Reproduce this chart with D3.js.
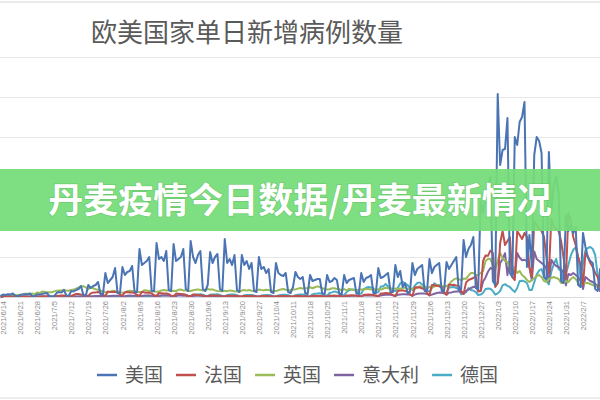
<!DOCTYPE html>
<html><head><meta charset="utf-8">
<script src="https://cdn.jsdelivr.net/npm/d3@7"></script>
<style>
html,body{margin:0;padding:0;background:#fff;overflow:hidden;}
svg{display:block;font-family:"Noto Sans CJK SC","Noto Sans",sans-serif;}
</style></head>
<body>
<svg id="chart" width="600" height="400"></svg>
<script>
// ---- data (daily new cases, thousands), days start 2021-06-13 ----
const startDate = "2021-06-13";
const seriesNames = ["美国","法国","英国","意大利","德国"];
const seriesColors = ["#4a74b4","#c0504d","#9bbb59","#8064a2","#4bacc6"];
const tickLabels = ["2021/6/14","2021/6/21","2021/6/28","2021/7/5","2021/7/12","2021/7/19","2021/7/26","2021/8/2","2021/8/9","2021/8/16","2021/8/23","2021/8/30","2021/9/6","2021/9/13","2021/9/20","2021/9/27","2021/10/4","2021/10/11","2021/10/18","2021/10/25","2021/11/1","2021/11/8","2021/11/15","2021/11/22","2021/11/29","2021/12/6","2021/12/13","2021/12/20","2021/12/27","2022/1/3","2022/1/10","2022/1/17","2022/1/24","2022/1/31","2022/2/7"];
const yTicks = [0,200,400,600,800,1000,1200];

const usa = [
5,12,10,14,12,18,6, 4,11,12,14,13,18,5, 4,13,12,15,18,20,5, 3,4,20,25,22,35,8,
6,30,28,35,40,55,10, 8,60,45,55,60,75,15, 12,120,70,85,100,145,20, 20,150,110,125,130,155,25,
25,240,160,170,180,200,30, 30,270,190,200,180,230,35, 30,265,180,190,200,240,40, 30,280,200,170,210,230,40,
30,60,225,170,200,215,40, 30,290,170,190,160,210,35, 25,210,160,180,140,170,30, 25,200,140,150,120,140,25,
20,170,120,110,105,120,25, 20,50,125,100,90,100,20, 15,110,80,85,90,90,18, 15,110,75,80,95,85,15,
15,110,70,85,90,95,18, 15,120,75,95,100,110,20, 20,145,95,100,110,120,25, 25,160,100,130,50,70,20,
25,170,110,140,150,160,30, 30,190,120,150,160,170,30, 30,175,140,160,180,200,35, 40,285,200,240,260,300,45,
40,480,420,500,560,600,80, 60,1015,660,735,740,895,120, 100,800,760,875,900,975,150, 310,150,710,800,780,720,100,
90,725,420,560,600,520,80, 70,410,330,360,320,350,60, 50,320,250,200,180,170,40, 30,140,120,100];

const france = [
1,3,3,3,3,3,2, 1,2,3,3,3,3,2, 1,2,3,4,4,4,3, 2,4,5,6,7,8,6,
3,5,10,15,15,12,10, 8,5,18,22,22,25,20, 10,5,27,25,25,26,22, 12,6,24,25,23,23,20,
10,5,26,23,21,22,18, 9,5,20,19,18,17,15, 7,4,17,16,15,14,11, 5,3,12,11,10,9,8,
4,2,9,8,7,7,5, 3,2,7,6,6,6,5, 3,1,6,5,5,5,4, 2,1,5,5,5,4,4,
2,1,5,4,5,4,4, 2,1,5,5,5,4,4, 2,1,6,5,6,5,5, 2,1,7,6,7,6,6,
3,1,8,8,9,8,7, 4,1,11,11,12,11,10, 6,2,17,18,20,19,17, 9,3,30,32,33,30,28,
13,5,47,49,48,42,40, 20,8,60,59,56,54,49, 23,11,63,60,61,57,55, 30,15,72,85,90,95,104,
28,30,180,208,206,232,220, 50,70,270,330,260,280,300, 100,85,330,310,290,320,300, 150,100,380,360,340,330,300,
200,120,390,350,340,330,280, 200,90,420,380,300,260,200, 160,60,220,200,170,150,120, 100,50,120,110];

const uk = [
7,7,8,9,11,11,10, 9,10,12,16,16,15,18, 14,22,20,27,26,24,24, 24,28,31,32,32,36,32,
31,35,37,42,48,52,54, 48,39,47,44,39,36,31, 29,24,24,27,31,29,26, 24,21,22,29,31,30,28,
26,25,24,34,32,31,28, 27,26,27,33,35,33,32, 28,31,30,36,38,32,33, 30,30,34,36,38,35,33,
34,40,37,38,33,30,29, 29,31,29,33,31,28,29, 26,33,35,32,35,31,30, 32,37,35,34,36,35,31,
30,30,34,38,40,36,34, 34,38,38,42,45,43,44, 45,49,44,49,53,50,44, 40,37,39,44,44,40,39,
33,40,33,41,37,35,34, 36,38,38,40,40,37,40, 36,39,37,41,46,44,40, 40,43,40,42,42,49,40,
40,42,41,47,54,50,45, 43,51,46,52,58,59,55, 49,55,60,78,88,93,90, 83,92,91,107,120,120,110,
110,120,130,180,190,190,160, 140,180,220,195,180,175,145, 140,145,120,130,110,100,85, 75,85,95,105,110,100,80,
75,90,95,100,95,90,70, 70,80,75,90,100,90,70, 60,65,70,70,65,60,55, 50,55,55,50];

const italy = [
1,1,1,1,1,1,1, 1,0,1,1,1,1,1, 1,0,1,1,1,1,1, 1,1,1,1,1,1,1,
1,1,2,2,2,2,3, 3,2,3,4,5,5,5, 5,3,4,5,6,6,6, 5,3,4,6,7,6,6,
5,4,5,7,7,7,6, 5,3,4,7,7,7,7, 5,4,5,7,7,6,6, 5,4,5,6,6,6,5,
5,3,4,5,5,5,4, 4,2,3,5,5,5,4, 3,2,3,4,4,4,4, 3,2,3,3,4,3,3,
3,2,2,3,3,3,3, 2,2,3,3,3,3,3, 2,1,3,3,3,4,3, 3,2,4,4,5,5,5,
4,3,5,5,6,6,6, 5,4,7,7,8,9,8, 7,5,8,10,11,11,11, 9,6,11,13,14,14,12,
12,7,12,16,17,17,17, 15,8,12,16,20,22,21, 18,12,21,23,26,28,28, 24,16,30,37,45,50,54,
30,30,78,98,126,145,140, 60,70,170,189,219,109,198, 155,100,220,196,184,186,180, 150,83,228,190,180,170,160,
140,77,186,167,155,150,140, 120,58,115,110,120,110,100, 80,40,100,90,80,75,65, 55,30,60,55];

const germany = [
1,1,1,2,2,1,1, 1,0,1,1,1,1,1, 0,0,1,1,1,1,1, 0,0,1,1,1,1,1,
1,1,1,1,2,2,1, 1,1,2,2,2,2,2, 1,1,2,3,3,3,2, 2,1,3,3,4,4,3,
2,2,4,5,5,6,5, 3,3,6,8,8,9,8, 5,4,9,11,11,12,10, 6,5,11,13,13,14,11,
6,5,11,13,13,14,10, 5,4,9,12,12,12,9, 4,3,8,10,10,10,8, 4,2,7,9,10,10,8,
3,2,8,10,11,11,9, 4,2,9,11,12,12,10, 5,4,13,16,17,19,15, 9,7,20,23,28,24,21,
10,9,25,34,37,37,30, 15,17,39,46,50,48,44, 23,24,52,53,65,52,45, 31,30,45,67,76,67,60,
45,35,57,70,73,63,55, 30,28,45,69,60,60,45, 21,21,47,49,50,45,40, 13,18,24,45,35,32,25,
10,12,21,40,42,41,30, 12,18,30,58,64,56,50, 36,25,45,80,81,78,70, 35,35,74,112,133,140,100,
80,63,126,164,190,140,130, 78,115,160,208,236,248,200, 93,169,234,245,250,240,210, 110,77,160,220];

const seriesData = [usa, france, uk, italy, germany];

// ---- drawing ----
const svg = d3.select("#chart");
const W = 600, H = 400;
const parse = d3.timeParse("%Y-%m-%d");
const parseLabel = d3.timeParse("%Y/%m/%d");
const d0 = parse(startDate);
const dayAt = i => d3.timeDay.offset(d0, i);

const x = d3.scaleTime()
  .domain([parseLabel("2021/6/14"), parseLabel("2022/2/7")])
  .range([3, 583]);
const y = d3.scaleLinear().domain([0, 1200]).range([297, 57]);

// frame lines
svg.append("line").attr("x1",0).attr("x2",W).attr("y1",2).attr("y2",2)
  .attr("stroke","#e3e3e3").attr("stroke-width",1.5);
svg.append("line").attr("x1",0).attr("x2",W).attr("y1",398).attr("y2",398)
  .attr("stroke","#e6e6e6").attr("stroke-width",1.5);

// gridlines
const yAxis = d3.axisLeft(y).tickValues(yTicks).tickSize(-W).tickFormat("");
const gy = svg.append("g").call(yAxis);
gy.select(".domain").remove();
gy.selectAll(".tick line").attr("stroke","#e6e6e6").attr("stroke-width",1.2);

// title
svg.append("text").attr("x",247).attr("y",42).attr("text-anchor","middle")
  .attr("font-size",26).attr("fill","#5a5a5a").attr("font-weight",400)
  .text("欧美国家单日新增病例数量");

// lines
const line = d3.line().x((d,i)=>x(dayAt(i))).y(d=>y(d)).curve(d3.curveLinear);
const order = [4,3,2,1,0];
order.forEach(k=>{
  svg.append("path").datum(seriesData[k])
    .attr("fill","none").attr("stroke",seriesColors[k]).attr("stroke-width",2)
    .attr("stroke-linejoin","round").attr("d",line);
});

// x axis
const xAxis = d3.axisBottom(x)
  .tickValues(tickLabels.map(parseLabel))
  .tickSize(0)
  .tickFormat((d,i)=>tickLabels[i]);
const gx = svg.append("g").attr("transform","translate(0,297)").call(xAxis);
gx.select(".domain").attr("stroke","#d9d9d9").attr("stroke-width",1.2);
gx.selectAll(".tick text")
  .attr("font-size",7.5).attr("fill","#8a8a8a")
  .attr("font-family","Liberation Sans, Arial, sans-serif")
  .attr("text-anchor","end")
  .attr("transform","rotate(-90)")
  .attr("x",-4).attr("y",0).attr("dy","0.35em");

// legend
const lg = svg.append("g");
let lx = 97;
seriesNames.forEach((n,i)=>{
  lg.append("line").attr("x1",lx).attr("x2",lx+20).attr("y1",375).attr("y2",375)
    .attr("stroke",seriesColors[i]).attr("stroke-width",2.5);
  const t = lg.append("text").attr("x",lx+28).attr("y",375).attr("dy","0.36em")
    .attr("font-size",19).attr("fill","#5a5a5a").text(n);
  lx += 28 + t.node().getComputedTextLength() + 13;
});

// banner overlay
svg.append("rect").attr("x",0).attr("y",169).attr("width",W).attr("height",62)
  .attr("fill","#74dd78").attr("opacity",0.93);
svg.append("text").attr("x",300).attr("y",200).attr("text-anchor","middle")
  .attr("dy","0.36em").attr("font-size",35).attr("font-weight",700)
  .attr("fill","#ffffff")
  .style("paint-order","stroke").attr("stroke","rgba(60,140,60,0.25)").attr("stroke-width",1.5)
  .text("丹麦疫情今日数据/丹麦最新情况");
</script>
</body></html>
